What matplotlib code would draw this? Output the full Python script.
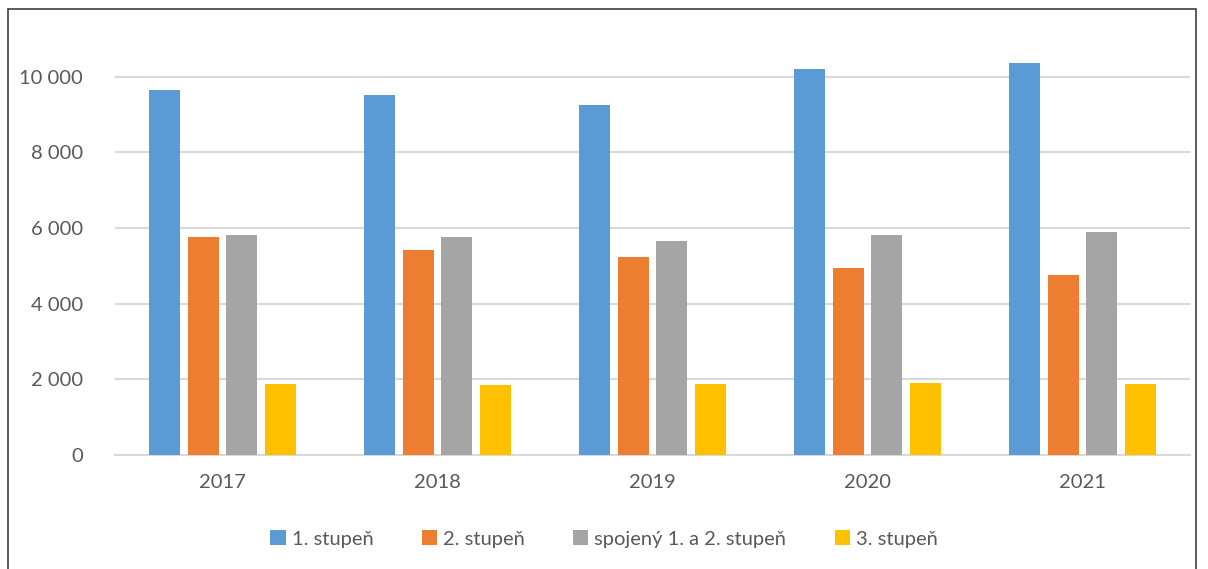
import matplotlib.pyplot as plt
import matplotlib as mpl
from matplotlib.patches import Rectangle
from matplotlib.ticker import FuncFormatter
import numpy as np

mpl.rcParams['font.family'] = ['Lato', 'DejaVu Sans']

years = ['2017', '2018', '2019', '2020', '2021']
labels = ['1. stupeň', '2. stupeň', 'spojený 1. a 2. stupeň', '3. stupeň']
stupen1 = [9650, 9520, 9250, 10210, 10370]
stupen2 = [5760, 5420, 5240, 4940, 4750]
spojeny = [5820, 5770, 5660, 5820, 5900]
stupen3 = [1890, 1860, 1870, 1900, 1890]
colors = ['#5b9bd5', '#ed7d31', '#a5a5a5', '#ffc000']

fig = plt.figure(figsize=(12.08, 5.69), dpi=100)
ax = fig.add_axes([115 / 1208, 1 - 455 / 569, 1075 / 1208, 416 / 569])

x = np.arange(len(years))
w = 0.144
step = 0.181
series = [stupen1, stupen2, spojeny, stupen3]
for i, vals in enumerate(series):
    ax.bar(x + (i - 1.5) * step, vals, width=w, color=colors[i], label=labels[i], zorder=3)

ax.set_xlim(-0.5, len(years) - 0.5)
ax.set_ylim(0, 11000)
ax.set_yticks(range(0, 10001, 2000))
ax.yaxis.set_major_formatter(FuncFormatter(lambda v, p: f'{int(v):,}'.replace(',', ' ')))
ax.set_xticks(x)
ax.set_xticklabels(years)
ax.grid(axis='y', color='#d9d9d9', linewidth=1.5, zorder=0)
for s in ['top', 'right', 'left']:
    ax.spines[s].set_visible(False)
ax.spines['bottom'].set_color('#d9d9d9')
ax.spines['bottom'].set_linewidth(1.5)
ax.tick_params(axis='both', length=0, labelsize=14.5, colors='#595959')
ax.tick_params(axis='y', pad=23)
ax.tick_params(axis='x', pad=14)

fig.legend(loc='center', bbox_to_anchor=(0.5, 1 - 539 / 569), ncol=4, frameon=False,
           fontsize=14.5, labelcolor='#595959', handlelength=0.75, handleheight=0.75,
           handletextpad=0.3, columnspacing=2.4)

fig.patches.append(Rectangle((8 / 1208, -0.01), 1188 / 1208, 1 - 9 / 569 + 0.01,
                             transform=fig.transFigure, fill=False, edgecolor='#404040',
                             linewidth=1.2))

plt.savefig('out.png', dpi=100)
